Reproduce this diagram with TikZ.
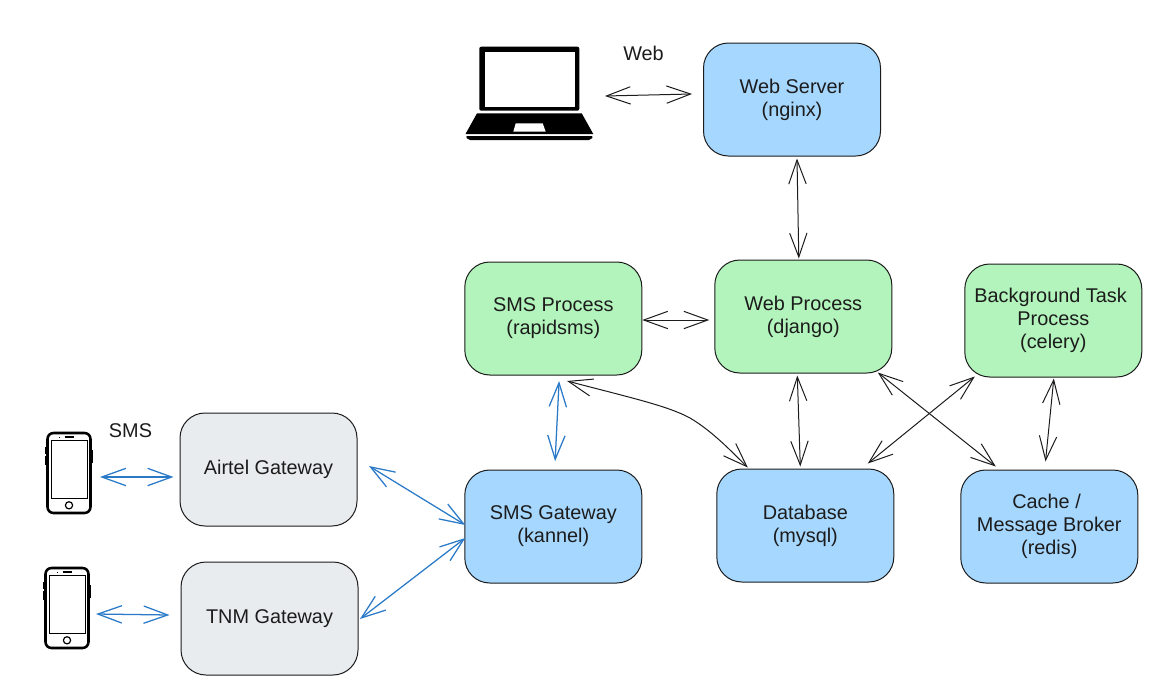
\documentclass[tikz,border=0pt]{standalone}
\usepackage{fontspec}
\setmainfont{Liberation Sans}
\usetikzlibrary{arrows.meta,calc}
\definecolor{boxblue}{HTML}{A6D7FF}
\definecolor{boxgreen}{HTML}{B2F4BB}
\definecolor{boxgrey}{HTML}{E9ECEF}
\definecolor{linkblue}{HTML}{2A7AC8}
\definecolor{inkdark}{HTML}{1C1C1C}
\tikzset{
  box/.style={draw=inkdark,line width=.75pt,rounded corners=18.75pt,minimum width=132.75pt,minimum height=84.75pt,inner sep=0pt,align=center,text=inkdark,font=\fontsize{14.9}{17.25}\selectfont},
  bluebox/.style={box,fill=boxblue},
  greenbox/.style={box,fill=boxgreen},
  greybox/.style={box,fill=boxgrey},
  lbl/.style={inner sep=0pt,text=inkdark,font=\fontsize{14.9}{17.25}\selectfont},
  link/.style={draw=inkdark,line width=.75pt,{Straight Barb[length=18pt,width=13pt,line join=miter]}-{Straight Barb[length=18pt,width=13pt,line join=miter]}},
  smslink/.style={link,draw=linkblue,line width=.95pt},
  phone/.pic={
    \draw[black,line width=1.9pt,rounded corners=4.5pt] (-21.5,-40) rectangle (21.5,40);
    \draw[black,line width=.7pt] (-18,-32.5) rectangle (18.3,25.7);
    \draw[black,line width=.9pt] (0,32.3) circle (3.6);
    \draw[black,line width=.8pt] (-4.3,-36) -- (4.7,-36);
    \fill[black] (-10.3,-36.4) rectangle (-9.3,-35.6);
    \fill[black] (-24,-26) rectangle (-22,-19);
    \fill[black] (-24,-17) rectangle (-22,-8);
    \fill[black] (22,-23) rectangle (24,-10);
  }
}
\begin{document}
\begin{tikzpicture}[x=.75pt,y=-.75pt]
\useasboundingbox (0,0) rectangle (1153,686);
% nodes
\node[bluebox] (ws) at (792,99.5) {Web Server\\(nginx)};
\node[greenbox] (sp) at (553.3,318.5) {SMS Process\\(rapidsms)};
\node[greenbox] (wp) at (803.3,316.5) {Web Process\\(django)};
\node[greenbox] (bg) at (1053.3,320.5) {Background Task\hspace*{4.1pt}\\Process\\(celery)};
\node[bluebox] (sg) at (553.3,526.5) {SMS Gateway\\(kannel)};
\node[bluebox] (db) at (805.3,525.5) {Database\\(mysql)};
\node[bluebox] (ca) at (1049.3,526.5) {Cache /\hspace*{4.1pt}\\Message Broker\\(redis)};
\node[greybox] (ag) at (268.5,469.5) {Airtel Gateway};
\node[greybox] (tg) at (269.5,618.5) {TNM Gateway};
\node[lbl] (lweb) at (643.5,53) {Web};
\node[lbl] (lsms) at (130.5,430.5) {SMS};
% laptop
\fill[black,rounded corners=1.5pt] (479.3,46.7) -- (579.3,46.7) -- (579.3,110.7) -- (479.3,110.7) -- cycle;
\fill[white] (485,52.3) rectangle (575,106.7);
\fill[black] (477,113.3) -- (581.7,113.3) -- (593.3,134) -- (465.5,134) -- cycle;
\fill[white] (515.7,123.3) -- (542.7,123.3) -- (545.7,131.7) -- (513.3,131.7) -- cycle;
\fill[black,rounded corners=1.5pt] (465.5,136) -- (593.3,136) -- (591,140) -- (468,140) -- cycle;
\coordinate (laptop) at (605,96);
% phones
\pic at (69,473) {phone};
\pic at (67,608) {phone};
\coordinate (ph1) at (100,477);
\coordinate (ph2) at (96,614);
% connectors
\draw[link] (laptop) -- ($(ws.west)+(-11,-5.5)$);
\draw[link] ($(ws.south)+(5,2)$) -- ($(wp.north)+(-4.5,-1)$);
\draw[link] ($(sp.east)+(0,1.5)$) -- ($(wp.west)+(-5,3.5)$);
\draw[link] ($(wp.south)+(-6,2)$) -- ($(db.north)+(-5,-2)$);
\draw[link] ($(wp.south)+(74.5,-1)$) -- ($(ca.north)+(-53.5,-3)$);
\draw[link] ($(bg.south)+(-78.5,-1)$) -- ($(db.north)+(62.5,-5)$);
\draw[link] ($(bg.south)+(0.5,1)$) -- ($(ca.north)+(-3.8,-8)$);
\draw[link] ($(sp.south)+(13.8,5.5)$) .. controls (632,398) and (668,406) .. (690,418) .. controls (712,431) and (730,450) .. ($(db.north)+(-57.5,-1)$);
\draw[smslink] ($(sp.south)+(5.8,5.5)$) -- ($(sg.north)+(1.8,-8.3)$);
\draw[smslink] ($(ag.east)+(11.5,-3.5)$) -- ($(sg.west)+(1,-1.5)$);
\draw[smslink] ($(tg.east)+(1.5,0.5)$) -- ($(sg.west)+(1,11.5)$);
\draw[smslink] (ph1) -- ($(ag.west)+(-6,7.5)$);
\draw[smslink] (ph2) -- ($(tg.west)+(-11,-3.5)$);
\end{tikzpicture}
\end{document}
